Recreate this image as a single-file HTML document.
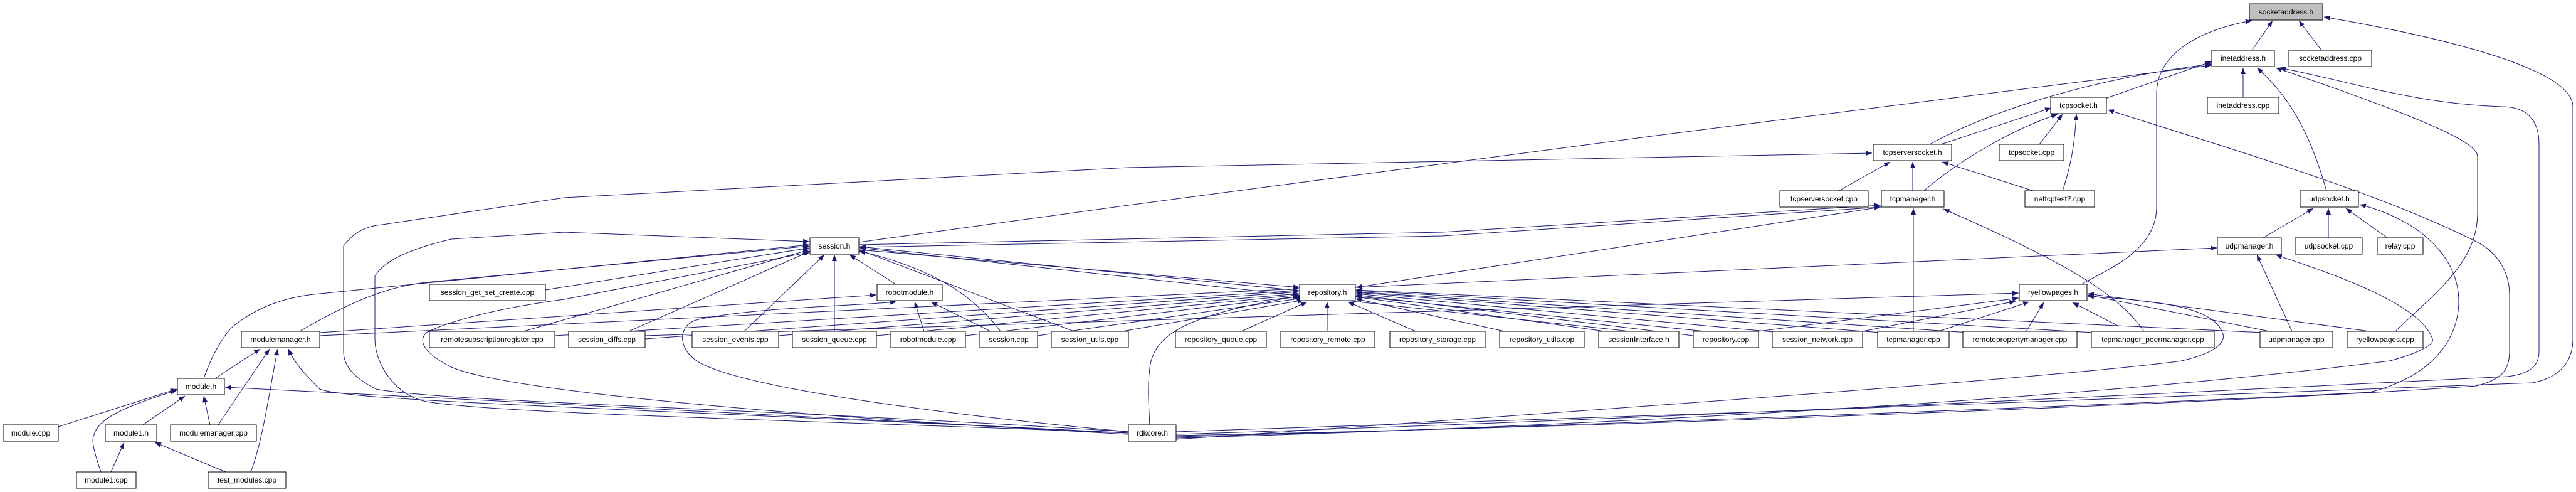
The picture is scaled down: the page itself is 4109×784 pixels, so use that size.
<!DOCTYPE html>
<html><head><meta charset="utf-8"><style>
html,body{margin:0;padding:0;background:#fff;}
svg{display:block;}
text{font-family:"Liberation Sans",sans-serif;font-size:12px;fill:#000;text-anchor:middle;}
.n{fill:#fff;stroke:#000;stroke-width:1;}
.e{fill:none;stroke:#191970;stroke-width:1;}
</style></head><body>
<svg width="4109" height="784" viewBox="0 0 4109 784" xmlns="http://www.w3.org/2000/svg">
<defs><marker id="a" markerWidth="10" markerHeight="8" refX="10" refY="4" orient="auto" markerUnits="userSpaceOnUse"><path d="M0,0 L10,4 L0,8z" fill="#191970"/></marker></defs>
<g class="e" marker-end="url(#a)">
<!-- socketaddress.h -->
<path d="M3592,80 L3625,33"/>
<path d="M3703,80 L3667,33"/>
<path d="M3320,453 C3360,430 3440,400 3440,330 L3440,150 C3440,80 3520,45 3592,33"/>
<path d="M1876,688 C2500,670 3500,630 4040,610 C4090,600 4104,570 4104,540 L4104,170 C4104,110 3900,60 3707,27"/>
<!-- inetaddress.h -->
<path d="M3578,155 L3578,108"/>
<path d="M3711,304 C3690,230 3660,160 3600,108"/>
<path d="M3358,157 L3528,98"/>
<path d="M3078,230 C3150,190 3300,130 3528,102"/>
<path d="M1370,386 L1800,327 L2650,215 L3527,104"/>
<path d="M1876,692 C2600,670 3600,620 4000,600 C4040,595 4050,580 4050,560 L4050,230 C4050,190 4030,170 3990,170 C3850,165 3750,130 3636,108"/>
<path d="M3821,528 C3880,470 3952,420 3952,340 L3952,250 C3952,230 3900,200 3630,108"/>
<!-- tcpsocket.h -->
<path d="M1876,694 C2600,680 3600,640 3950,615 C3990,605 4003,590 4003,560 L4003,470 C4003,430 3980,400 3950,385 C3800,310 3600,250 3362,175"/>
<path d="M3096,230 L3272,172"/>
<path d="M3069,304 C3120,260 3200,210 3282,182"/>
<path d="M3253,230 L3290,182"/>
<path d="M3290,304 C3305,260 3310,220 3312,182"/>
<!-- udpsocket.h -->
<path d="M3610,379 L3690,332"/>
<path d="M3714,379 L3714,332"/>
<path d="M3808,379 L3742,332"/>
<path d="M1876,696 C2500,680 3500,640 3780,625 C3880,600 3922,540 3922,480 C3922,410 3860,350 3764,326"/>
<!-- udpmanager.h -->
<path d="M3656,528 L3600,406"/>
<path d="M1876,698 C2500,680 3300,640 3812,575 C3850,565 3885,550 3880,540 C3860,480 3700,430 3630,406"/>
<path d="M2162,458 L3536,395"/>
<!-- tcpmanager.h -->
<path d="M3052,528 L3052,332"/>
<path d="M3420,528 C3380,470 3300,420 3100,333"/>
<path d="M1370,390 L2300,370 L3000,327"/>
<path d="M1370,394 L2300,376 L3000,330"/>
<!-- tcpserversocket.h -->
<path d="M2933,304 L3015,258"/>
<path d="M3051,304 L3051,258"/>
<path d="M3243,304 L3098,258"/>
<path d="M1800,688 C1200,650 700,640 600,620 C560,600 548,580 548,560 L548,392 C560,375 580,360 610,358 L900,315 L1800,267 L2986,244"/>
<!-- session.h -->
<path d="M870,462 L1291,395"/>
<path d="M835,528 L1291,398"/>
<path d="M478,528 C560,480 620,455 689,449 L1291,392"/>
<path d="M325,603 C340,560 360,530 373,519 C410,490 450,475 500,469 L1291,390"/>
<path d="M1003,528 L1293,400"/>
<path d="M1187,528 L1315,406"/>
<path d="M1331,528 L1331,406"/>
<path d="M1429,453 L1355,406"/>
<path d="M1596,528 C1560,480 1500,430 1370,400"/>
<path d="M1713,528 L1370,398"/>
<path d="M2600,528 L1371,395"/>
<path d="M2720,528 L1371,393"/>
<path d="M1800,690 C1300,670 800,660 680,640 C630,630 598,580 598,540 L598,440 C610,420 640,400 720,381 L900,370 L1291,385"/>
<path d="M1800,692 C1200,660 800,620 720,585 C680,565 665,545 680,530 C720,510 800,490 900,477 L1291,402"/>
<!-- repository.h -->
<path d="M1370,398 L2073,458"/>
<path d="M510,535 L2072,460"/>
<path d="M885,535 L2072,463"/>
<path d="M1029,540 L2072,465"/>
<path d="M1242,535 L2072,468"/>
<path d="M1398,535 L2072,470"/>
<path d="M1540,535 L2074,472"/>
<path d="M1655,535 L2078,475"/>
<path d="M1790,528 L2080,478"/>
<path d="M1980,528 L2085,481"/>
<path d="M2117,528 L2117,481"/>
<path d="M2258,528 L2150,481"/>
<path d="M2400,528 L2162,476"/>
<path d="M2560,528 L2163,473"/>
<path d="M2701,535 L2163,470"/>
<path d="M2840,530 L2163,468"/>
<path d="M3000,530 L2163,466"/>
<path d="M3140,530 L2163,465"/>
<path d="M3340,530 L2163,463"/>
<path d="M3610,530 L2163,462"/>
<path d="M3000,330 L2163,458"/>
<path d="M1834,677 C1832,640 1830,610 1835,580 C1845,530 1900,500 2072,472"/>
<!-- ryellowpages.h -->
<path d="M2804,528 L3220,475"/>
<path d="M2971,528 L3215,480"/>
<path d="M3092,528 L3237,481"/>
<path d="M3232,528 L3260,482"/>
<path d="M3380,520 L3306,482"/>
<path d="M3620,528 L3330,470"/>
<path d="M3780,528 L3330,468"/>
<path d="M1029,535 L3220,467"/>
<path d="M1876,700 C2600,650 3300,600 3480,575 C3545,560 3550,540 3545,530 C3530,490 3450,480 3330,472"/>
<!-- robotmodule.h -->
<path d="M1474,528 L1459,481"/>
<path d="M1580,528 L1485,481"/>
<path d="M510,530 L1398,470"/>
<path d="M1800,688 C1500,660 1200,620 1120,580 C1080,560 1080,520 1110,510 C1200,490 1350,488 1430,481"/>
<!-- modulemanager.h -->
<path d="M343,603 L415,556"/>
<path d="M348,677 L430,556"/>
<path d="M400,752 C420,700 430,620 443,556"/>
<path d="M1800,690 C1000,650 560,640 510,620 C490,600 470,580 460,556"/>
<!-- module.h -->
<path d="M93,680 L282,620"/>
<path d="M228,677 L295,631"/>
<path d="M335,677 L325,631"/>
<path d="M161,752 C150,720 145,700 150,693 C155,670 190,650 282,622"/>
<path d="M1800,690 L359,617"/>
<!-- module1.h -->
<path d="M177,752 L198,705"/>
<path d="M360,752 L247,705"/>
</g>
<g>
<rect class="n" x="3588" y="6" width="117" height="26" style="fill:#bfbfbf"/><text x="3646.5" y="23">socketaddress.h</text>
<rect class="n" x="3528" y="80" width="100" height="26"/><text x="3578" y="97">inetaddress.h</text>
<rect class="n" x="3651" y="80" width="132" height="26"/><text x="3717" y="97">socketaddress.cpp</text>
<rect class="n" x="3521" y="155" width="114" height="26"/><text x="3578" y="172">inetaddress.cpp</text>
<rect class="n" x="3271" y="155" width="89" height="26"/><text x="3315.5" y="172">tcpsocket.h</text>
<rect class="n" x="2988" y="230" width="125" height="26"/><text x="3050.5" y="247">tcpserversocket.h</text>
<rect class="n" x="3189" y="230" width="103" height="26"/><text x="3240.5" y="247">tcpsocket.cpp</text>
<rect class="n" x="2839" y="304" width="141" height="26"/><text x="2909.5" y="321">tcpserversocket.cpp</text>
<rect class="n" x="3001" y="304" width="100" height="26"/><text x="3051" y="321">tcpmanager.h</text>
<rect class="n" x="3230" y="304" width="111" height="26"/><text x="3285.5" y="321">nettcptest2.cpp</text>
<rect class="n" x="3669" y="304" width="93" height="26"/><text x="3715.5" y="321">udpsocket.h</text>
<rect class="n" x="1292" y="379" width="78" height="26"/><text x="1331" y="396">session.h</text>
<rect class="n" x="3537" y="379" width="102" height="26"/><text x="3588" y="396">udpmanager.h</text>
<rect class="n" x="3661" y="379" width="107" height="26"/><text x="3714.5" y="396">udpsocket.cpp</text>
<rect class="n" x="3792" y="379" width="73" height="26"/><text x="3828.5" y="396">relay.cpp</text>
<rect class="n" x="685" y="453" width="185" height="26"/><text x="777.5" y="470">session_get_set_create.cpp</text>
<rect class="n" x="1399" y="453" width="104" height="26"/><text x="1451" y="470">robotmodule.h</text>
<rect class="n" x="2073" y="453" width="89" height="26"/><text x="2117.5" y="470">repository.h</text>
<rect class="n" x="3221" y="453" width="108" height="26"/><text x="3275" y="470">ryellowpages.h</text>
<rect class="n" x="385" y="528" width="125" height="26"/><text x="447.5" y="545">modulemanager.h</text>
<rect class="n" x="685" y="528" width="200" height="26"/><text x="785" y="545">remotesubscriptionregister.cpp</text>
<rect class="n" x="907" y="528" width="122" height="26"/><text x="968" y="545">session_diffs.cpp</text>
<rect class="n" x="1104" y="528" width="138" height="26"/><text x="1173" y="545">session_events.cpp</text>
<rect class="n" x="1264" y="528" width="134" height="26"/><text x="1331" y="545">session_queue.cpp</text>
<rect class="n" x="1421" y="528" width="119" height="26"/><text x="1480.5" y="545">robotmodule.cpp</text>
<rect class="n" x="1563" y="528" width="92" height="26"/><text x="1609" y="545">session.cpp</text>
<rect class="n" x="1677" y="528" width="123" height="26"/><text x="1738.5" y="545">session_utils.cpp</text>
<rect class="n" x="1875" y="528" width="145" height="26"/><text x="1947.5" y="545">repository_queue.cpp</text>
<rect class="n" x="2043" y="528" width="150" height="26"/><text x="2118" y="545">repository_remote.cpp</text>
<rect class="n" x="2217" y="528" width="152" height="26"/><text x="2293" y="545">repository_storage.cpp</text>
<rect class="n" x="2392" y="528" width="135" height="26"/><text x="2459.5" y="545">repository_utils.cpp</text>
<rect class="n" x="2550" y="528" width="128" height="26"/><text x="2614" y="545">sessionInterface.h</text>
<rect class="n" x="2701" y="528" width="104" height="26"/><text x="2753" y="545">repository.cpp</text>
<rect class="n" x="2827" y="528" width="144" height="26"/><text x="2899" y="545">session_network.cpp</text>
<rect class="n" x="2995" y="528" width="114" height="26"/><text x="3052" y="545">tcpmanager.cpp</text>
<rect class="n" x="3131" y="528" width="182" height="26"/><text x="3222" y="545">remotepropertymanager.cpp</text>
<rect class="n" x="3336" y="528" width="196" height="26"/><text x="3434" y="545">tcpmanager_peermanager.cpp</text>
<rect class="n" x="3605" y="528" width="116" height="26"/><text x="3663" y="545">udpmanager.cpp</text>
<rect class="n" x="3744" y="528" width="121" height="26"/><text x="3804.5" y="545">ryellowpages.cpp</text>
<rect class="n" x="283" y="603" width="75" height="26"/><text x="320.5" y="620">module.h</text>
<rect class="n" x="5" y="677" width="88" height="26"/><text x="49" y="694">module.cpp</text>
<rect class="n" x="168" y="677" width="82" height="26"/><text x="209" y="694">module1.h</text>
<rect class="n" x="272" y="677" width="137" height="26"/><text x="340.5" y="694">modulemanager.cpp</text>
<rect class="n" x="1800" y="677" width="76" height="26"/><text x="1838" y="694">rdkcore.h</text>
<rect class="n" x="122" y="752" width="95" height="26"/><text x="169.5" y="769">module1.cpp</text>
<rect class="n" x="332" y="752" width="124" height="26"/><text x="394" y="769">test_modules.cpp</text>
</g>
</svg>
</body></html>
